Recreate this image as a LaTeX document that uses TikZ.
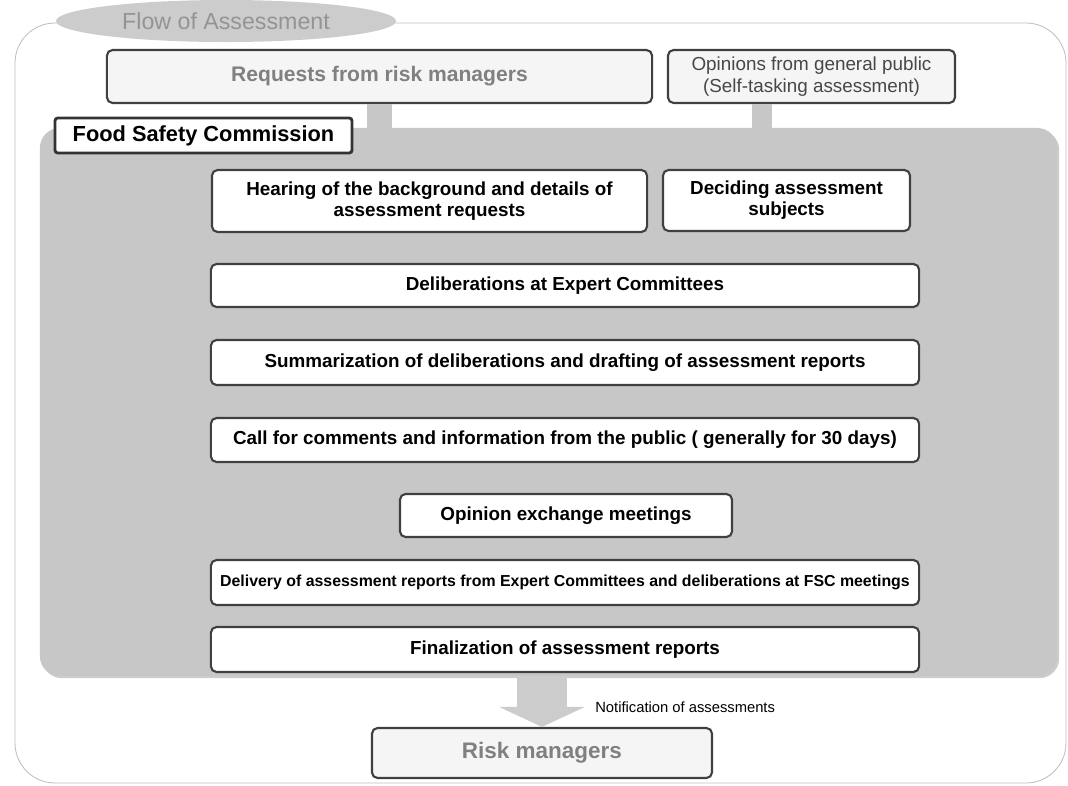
\documentclass[tikz,border=0pt]{standalone}
\usepackage{fontspec}
\setmainfont{Liberation Sans}
\usetikzlibrary{arrows.meta,shapes.geometric,shadows}

\newcommand{\boxfont}{\fontsize{13.4}{15}\selectfont\bfseries}

\tikzset{
  stepbox/.style={draw=black!75, line width=1.5pt, rounded corners=4pt, fill=white,
    align=center, font=\boxfont, inner sep=0pt},
  sourcebox/.style={stepbox, fill=black!4},
  frame/.style={draw=black!25, line width=0.6pt, rounded corners=1cm},
  stub/.style={draw=black!22},
}

\begin{document}
\begin{tikzpicture}[x=0.025cm, y=-0.025cm]
      \useasboundingbox (0,0) rectangle (1068,785);

      \draw[frame] (15,23) rectangle (1066,783);
      \node[ellipse, fill=black!20, minimum width=8.5cm, minimum height=1.05cm,
        text=black!42, font=\fontsize{16.5}{18}\selectfont] (title) at (226,21) {Flow of Assessment};

      \node[sourcebox, minimum width=13.625cm, minimum height=1.325cm, text=black!50,
        font=\fontsize{15}{18}\selectfont\bfseries] (req) at (379.5,76.5) {Requests from risk managers};
      \node[sourcebox, minimum width=7.175cm, minimum height=1.325cm, text=black!72,
        font=\fontsize{13.4}{16}\selectfont] (op) at (811.5,76.5) {Opinions from general public\\(Self-tasking assessment)};

      \node[fill=black!22, rounded corners=0.5cm, minimum width=25.425cm, minimum height=13.7cm,
        drop shadow={shadow xshift=1.5pt, shadow yshift=-1.5pt, fill=black!40}] (panel) at (548.5,402) {};

      \draw[stub, line width=0.625cm] (req.south) -- (req.south |- panel.north);
      \draw[stub, line width=0.5cm] ([xshift=-1.23cm]op.south) -- ([xshift=-1.23cm]op.south |- panel.north);

      \node[stepbox, rounded corners=2pt, line width=2pt, draw=black!80, minimum width=7.425cm,
        minimum height=0.875cm, font=\fontsize{15.5}{17}\selectfont\bfseries] (fsc) at (203.5,135.5) {Food Safety Commission};

      \node[stepbox, minimum width=10.875cm, minimum height=1.55cm] (hear) at (429.5,201)
        {Hearing of the background and details of\\assessment requests};
      \node[stepbox, minimum width=6.175cm, minimum height=1.525cm] (decide) at (786.5,200.5)
        {Deciding assessment\\subjects};

      \node[stepbox, minimum width=17.7cm, minimum height=1.075cm] (delib) at (565,285.5)
        {Deliberations at Expert Committees};
      \node[stepbox, minimum width=17.7cm, minimum height=1.125cm] (summ) at (565,362.5)
        {Summarization of deliberations and drafting of assessment reports};
      \node[stepbox, minimum width=17.7cm, minimum height=1.1cm] (call) at (565,440)
        {Call for comments and information from the public ( generally for 30 days)};
      \node[stepbox, minimum width=8.3cm, minimum height=1.075cm] (opex) at (566,515.5)
        {Opinion exchange meetings};
      \node[stepbox, minimum width=17.7cm, minimum height=1.125cm, font=\fontsize{11.3}{13}\selectfont\bfseries] (deliv) at (565,582.5)
        {Delivery of assessment reports from Expert Committees and deliberations at FSC meetings};
      \node[stepbox, minimum width=17.7cm, minimum height=1.125cm] (final) at (565,649.5)
        {Finalization of assessment reports};

      \node[sourcebox, minimum width=8.5cm, minimum height=1.25cm, text=black!50,
        font=\fontsize{16}{18}\selectfont\bfseries] (rm) at (542,753) {Risk managers};

      \draw[black!20, line width=1.25cm, -{Triangle[length=0.5cm, width=2.125cm]}]
        (rm.north |- panel.south) -- (rm.north);
      \node[anchor=west, inner sep=0pt, font=\fontsize{10.5}{12}\selectfont] (notif) at (595,707)
        {Notification of assessments};
\end{tikzpicture}
\end{document}
